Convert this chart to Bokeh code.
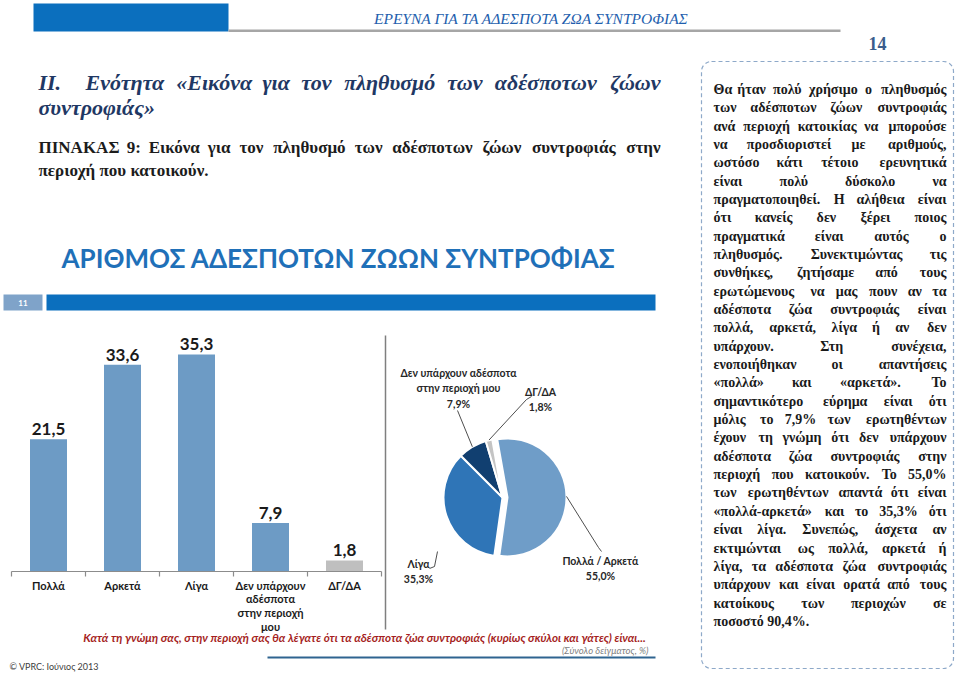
import math
from bokeh.plotting import figure
from bokeh.models import Range1d
from bokeh.embed import file_html
from bokeh.resources import INLINE
from bokeh.core.properties import value

# ---------------- data ----------------
bar_categories = ["Πολλά", "Αρκετά", "Λίγα", "Δεν υπάρχουν\nαδέσποτα\nστην περιοχή\nμου", "ΔΓ/ΔΑ"]
bar_values = [21.5, 33.6, 35.3, 7.9, 1.8]
bar_colors = ["#6d9bc5", "#6d9bc5", "#6d9bc5", "#6d9bc5", "#bfbfbf"]

pie_labels = ["Πολλά / Αρκετά", "Λίγα", "Δεν υπάρχουν αδέσποτα\nστην περιοχή μου", "ΔΓ/ΔΑ"]
pie_values = [55.0, 35.3, 7.9, 1.8]
pie_colors = ["#6f9dc8", "#2f75b7", "#113f70", "#c4c4c4"]
pie_explode = [5, 0, 0, 0]

header_text = "ΕΡΕΥΝΑ ΓΙΑ ΤΑ ΑΔΕΣΠΟΤΑ ΖΩΑ ΣΥΝΤΡΟΦΙΑΣ"
page_number = "14"
section_lines = ["ΙΙ. Ενότητα «Εικόνα για τον πληθυσμό των αδέσποτων ζώων", "συντροφιάς»"]
table_lines = ["ΠΙΝΑΚΑΣ 9: Εικόνα για τον πληθυσμό των αδέσποτων ζώων συντροφιάς στην",
               "περιοχή που κατοικούν."]
chart_title = "ΑΡΙΘΜΟΣ ΑΔΕΣΠΟΤΩΝ ΖΩΩΝ ΣΥΝΤΡΟΦΙΑΣ"
slide_number = "11"
question = "Κατά τη γνώμη σας, στην περιοχή σας θα λέγατε ότι τα αδέσποτα ζώα συντροφιάς (κυρίως σκύλοι και γάτες) είναι..."
base_note = "(Σύνολο δείγματος, %)"
copyright_note = "© VPRC: Ιούνιος 2013"
box_lines = [
    "Θα ήταν πολύ χρήσιμο ο πληθυσμός",
    "των αδέσποτων ζώων συντροφιάς",
    "ανά περιοχή κατοικίας να μπορούσε",
    "να προσδιοριστεί με αριθμούς,",
    "ωστόσο κάτι τέτοιο ερευνητικά",
    "είναι πολύ δύσκολο να",
    "πραγματοποιηθεί. Η αλήθεια είναι",
    "ότι κανείς δεν ξέρει ποιος",
    "πραγματικά είναι αυτός ο",
    "πληθυσμός. Συνεκτιμώντας τις",
    "συνθήκες, ζητήσαμε από τους",
    "ερωτώμενους να μας πουν αν τα",
    "αδέσποτα ζώα συντροφιάς είναι",
    "πολλά, αρκετά, λίγα ή αν δεν",
    "υπάρχουν. Στη συνέχεια,",
    "ενοποιήθηκαν οι απαντήσεις",
    "«πολλά» και «αρκετά». Το",
    "σημαντικότερο εύρημα είναι ότι",
    "μόλις το 7,9% των ερωτηθέντων",
    "έχουν τη γνώμη ότι δεν υπάρχουν",
    "αδέσποτα ζώα συντροφιάς στην",
    "περιοχή που κατοικούν. Το 55,0%",
    "των ερωτηθέντων απαντά ότι είναι",
    "«πολλά-αρκετά» και το 35,3% ότι",
    "είναι λίγα. Συνεπώς, άσχετα αν",
    "εκτιμώνται ως πολλά, αρκετά ή",
    "λίγα, τα αδέσποτα ζώα συντροφιάς",
    "υπάρχουν και είναι ορατά από τους",
    "κατοίκους των περιοχών σε",
    "ποσοστό 90,4%.",
]

# ---------------- layout ----------------
W, H = 960, 678
OFF = 0  # figure's page offset


def Y(py):
    return H - py


p = figure(width=W, height=H, output_backend="svg", toolbar_location=None,
           x_range=Range1d(OFF, OFF + W), y_range=Range1d(0, H),
           min_border=0, title=None)
p.axis.visible = False
p.xgrid.visible = False
p.ygrid.visible = False
p.outline_line_color = None
p.background_fill_color = "white"
p.border_fill_color = "white"

SERIF = value("Liberation Serif")
SANS = value("Lato")


def char_w(ch):
    if ch in " ,.;:'ιίϊΐ|":
        return 0.27
    if ch in "«»":
        return 0.5
    if ch == "%":
        return 0.95
    if ch in "ωώφψμΜΩΦΨ":
        return 0.68
    if ch.isdigit():
        return 0.5
    if ch.isupper():
        return 0.68
    return 0.52


def justify(line, x0, x1, y, fs, out, last=False):
    words = line.split()
    if last or len(words) == 1:
        out["left"].append((x0, y, line))
        return
    ws = [sum(char_w(c) for c in w) * fs for w in words]
    gap = (x1 - x0 - sum(ws)) / (len(words) - 1)
    x = x0
    for i, (w, wd) in enumerate(zip(words, ws)):
        if i == 0:
            out["left"].append((x0, y, w))
        elif i == len(words) - 1:
            out["right"].append((x1, y, w))
        else:
            out["center"].append((x + wd / 2, y, w))
        x += wd + gap


def draw_groups(out, **style):
    for align, items in out.items():
        if not items:
            continue
        p.text(x=[i[0] for i in items], y=[i[1] for i in items], text=[i[2] for i in items],
               text_align=align, text_baseline="middle", **style)


# ---------------- header ----------------
p.quad(left=[33], right=[228], top=[Y(3)], bottom=[Y(31)], fill_color="#0b6fbe", line_color=None)
p.quad(left=[228], right=[840], top=[Y(29)], bottom=[Y(31.5)], fill_color="#a6a6a6", line_color=None)
p.text(x=[689], y=[Y(18)], text=[header_text], text_align="right", text_baseline="middle",
       text_font=SERIF, text_font_style="italic", text_font_size="15.5px", text_color="#1f5fae")
p.text(x=[877], y=[Y(43)], text=[page_number], text_align="center", text_baseline="middle",
       text_font=SERIF, text_font_style="bold", text_font_size="18px", text_color="#3a5d8c")

# section title
out = {"left": [], "center": [], "right": []}
justify(section_lines[0], 38, 660, Y(82), 22, out)
justify(section_lines[1], 38, 660, Y(107), 22, out, last=True)
draw_groups(out, text_font=SERIF, text_font_style="bold italic", text_font_size="22px", text_color="#1f3864")

out = {"left": [], "center": [], "right": []}
justify(table_lines[0], 38, 660, Y(147), 17, out)
justify(table_lines[1], 38, 660, Y(170), 17, out, last=True)
draw_groups(out, text_font=SERIF, text_font_style="bold", text_font_size="17px", text_color="#1c1c1c")

# ---------------- slide ----------------
p.text(x=[338], y=[Y(257)], text=[chart_title], text_align="center", text_baseline="middle",
       text_font=SANS, text_font_style="bold", text_font_size="26px", text_color="#1f70b8")
p.quad(left=[3], right=[42], top=[Y(294)], bottom=[Y(310)], fill_color="#7fa3c9", line_color=None)
p.text(x=[22.5], y=[Y(302)], text=[slide_number], text_align="center", text_baseline="middle",
       text_font=SANS, text_font_style="bold", text_font_size="8px", text_color="white")
p.quad(left=[46], right=[655], top=[Y(294)], bottom=[Y(310)], fill_color="#0b6fbe", line_color=None)

# bar chart ranges (category index -> px, value -> px)
BAR_C0, BAR_STEP = 48, 74
BASE_PY, PX_PER_UNIT = 571, 6.15
xs0 = -(BAR_C0 - OFF) / BAR_STEP
p.extra_x_ranges = {"bar": Range1d(xs0, xs0 + W / BAR_STEP)}
ye = BASE_PY / PX_PER_UNIT
p.extra_y_ranges = {"bar": Range1d(ye - H / PX_PER_UNIT, ye)}

idx = list(range(len(bar_values)))
p.vbar(x=idx, top=bar_values, bottom=0, width=0.5, fill_color=bar_colors, line_color=None,
       x_range_name="bar", y_range_name="bar")
n = len(bar_values)
p.segment(x0=[-0.5], x1=[n - 0.5], y0=[0], y1=[0], line_color="#8c8c8c", line_width=1.2,
          x_range_name="bar", y_range_name="bar")
tick_x = [i - 0.5 for i in range(n + 1)]
p.segment(x0=tick_x, x1=tick_x, y0=[0] * len(tick_x), y1=[-5 / PX_PER_UNIT] * len(tick_x),
          line_color="#8c8c8c", line_width=1.2, x_range_name="bar", y_range_name="bar")
p.text(x=idx, y=[v + 4 / PX_PER_UNIT for v in bar_values],
       text=[f"{v:.1f}".replace(".", ",") for v in bar_values],
       text_align="center", text_baseline="bottom", text_font=SANS, text_font_style="bold",
       text_font_size="17px", text_color="#1a1a1a", x_range_name="bar", y_range_name="bar")
p.text(x=idx, y=[-7 / PX_PER_UNIT] * n, text=bar_categories, text_align="center", text_baseline="top",
       text_font=SANS, text_font_style="bold", text_font_size="11px", text_line_height=1.06,
       text_color="#1a1a1a", x_range_name="bar", y_range_name="bar")

# separator
p.segment(x0=[385], x1=[385], y0=[Y(335)], y1=[Y(629)], line_color="#7f7f7f", line_width=1.5)

# pie chart
CX, CY, R, START = 502, Y(497), 59, 100.0
total = sum(pie_values)
starts, ends, mids, pxs, pys = [], [], [], [], []
cum = 0.0
for v, e in zip(pie_values, pie_explode):
    a0 = math.radians(START) - cum / total * 2 * math.pi
    a1 = a0 - v / total * 2 * math.pi
    m = (a0 + a1) / 2
    starts.append(a0)
    ends.append(a1)
    mids.append(m)
    pxs.append(CX + e * math.cos(m))
    pys.append(CY + e * math.sin(m))
    cum += v
p.wedge(x=pxs, y=pys, radius=R, start_angle=starts, end_angle=ends, direction="clock",
        fill_color=pie_colors, line_color="white", line_width=2)

pie_pct = [f"{v:.1f}".replace(".", ",") + "%" for v in pie_values]
pie_text = [f"{l}\n{pc}" for l, pc in zip(pie_labels, pie_pct)]
label_pos = [(600, 554), (418, 557), (458, 366), (540, 385)]
p.text(x=[q[0] for q in label_pos], y=[Y(q[1]) for q in label_pos], text=pie_text,
       text_align="center", text_baseline="top", text_font=SANS, text_font_style="bold",
       text_font_size="10.5px", text_line_height=1.3, text_color="#262626")

# leader lines
edge = [(pxs[i] + R * math.cos(mids[i]), pys[i] + R * math.sin(mids[i])) for i in range(4)]
leaders_x = [
    [edge[0][0], 598, 601],
    [429, 434, 437],
    [457, edge[2][0]],
    [531, 526, edge[3][0]],
]
leaders_y = [
    [edge[0][1], Y(547), Y(551)],
    [Y(568), Y(566), Y(551)],
    [Y(410), edge[2][1]],
    [Y(396), Y(399), edge[3][1]],
]
p.multi_line(xs=leaders_x, ys=leaders_y, line_color="#3a3a3a", line_width=0.9)

# question & notes
p.text(x=[364], y=[Y(637)], text=[question], text_align="center", text_baseline="middle",
       text_font=SANS, text_font_style="bold italic", text_font_size="11.6px", text_color="#a51e22")
p.text(x=[648], y=[Y(650)], text=[base_note], text_align="right", text_baseline="middle",
       text_font=SANS, text_font_style="italic", text_font_size="9.5px", text_color="#7f7f7f")
p.quad(left=[267], right=[655], top=[Y(656)], bottom=[Y(658)], fill_color="#2f6490", line_color=None)
p.text(x=[9], y=[Y(666)], text=[copyright_note], text_align="left", text_baseline="middle",
       text_font=SANS, text_font_size="9px", text_color="#404040")

# ---------------- text box ----------------
p.quad(left=[701], right=[953], top=[Y(61)], bottom=[Y(668)], fill_color=None,
       line_color="#8ea9c9", line_width=1.2, line_dash="4 3", border_radius=10)
out = {"left": [], "center": [], "right": []}
LINE0, STEP = 89, 18.34
for i, line in enumerate(box_lines):
    justify(line, 713, 946, Y(LINE0 + i * STEP), 14, out, last=(i == len(box_lines) - 1))
draw_groups(out, text_font=SERIF, text_font_style="bold", text_font_size="14px", text_color="#1a1a1a")

open("out.html", "w").write(file_html(p, INLINE))
